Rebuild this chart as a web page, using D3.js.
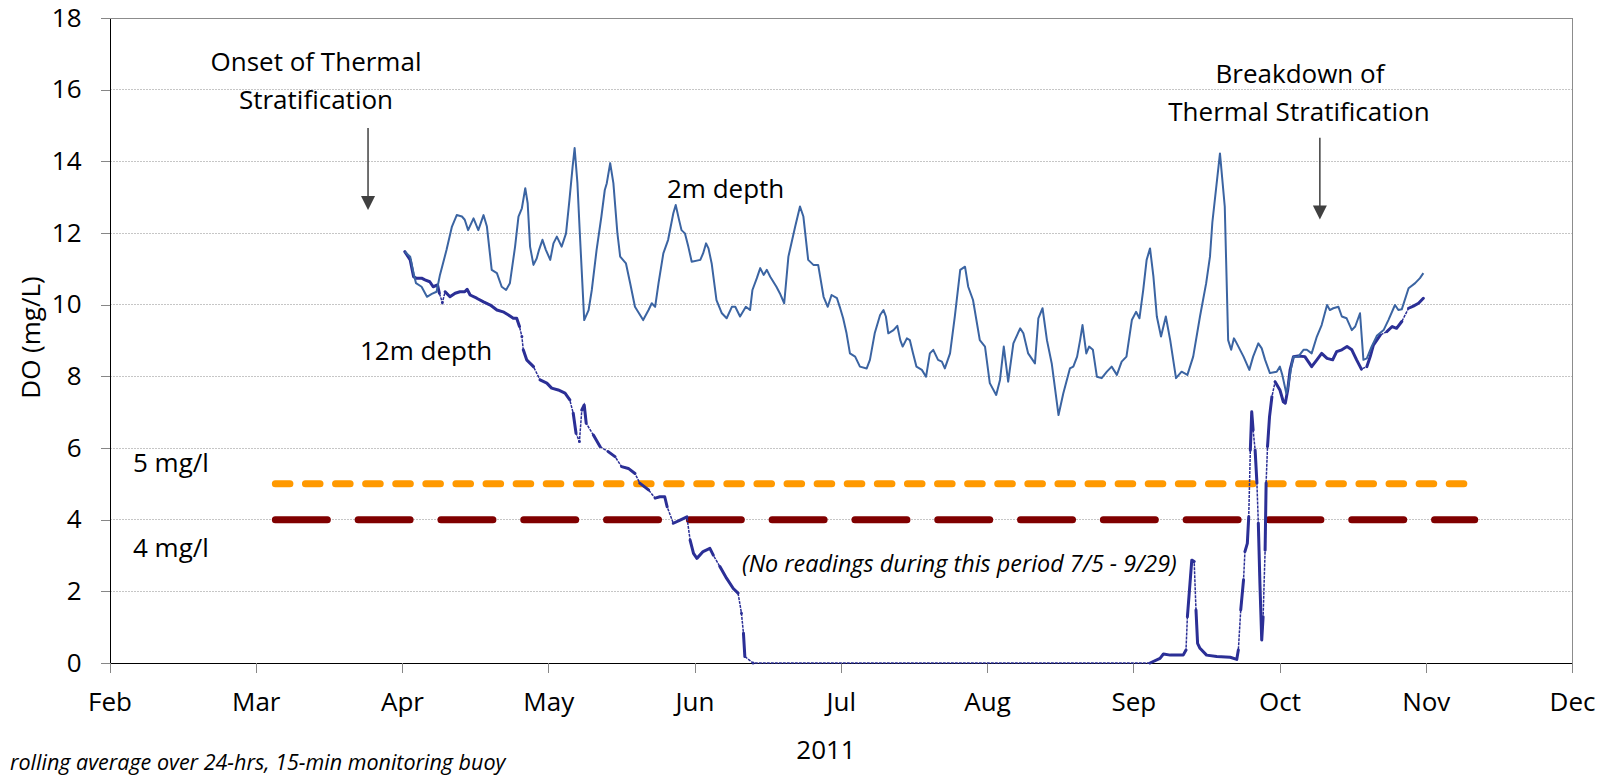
<!DOCTYPE html>
<html>
<head>
<meta charset="utf-8">
<script src="https://cdnjs.cloudflare.com/ajax/libs/d3/7.8.5/d3.min.js"></script>
<style>
body{margin:0;background:#fff;}
text{font-family:"Open Sans",sans-serif;fill:#000;}
</style>
</head>
<body>
<div id="chart"></div>
<script>
// day of year (fractional) and DO mg/L, 2m sensor
var day2m=[93.6,94.7,95.4,95.9,97.1,98.2,99.2,100.2,100.9,102.3,103.4,104.4,105.5,106.1,106.8,107.9,108.9,110.0,110.7,111.7,112.8,113.8,114.7,115.5,116.6,117.3,118.0,118.7,119.2,119.7,120.4,121.1,121.6,122.3,123.0,123.9,124.6,125.3,126.3,127.2,127.9,128.6,129.0,129.6,130.1,131.0,131.9,132.6,133.6,134.6,135.3,135.7,136.4,137.1,137.9,138.5,139.7,140.6,141.6,143.3,144.4,145.1,145.8,146.5,147.5,148.5,149.6,150.1,150.8,151.3,152.0,152.7,153.4,155.2,155.8,156.4,156.9,157.6,158.6,159.7,160.7,161.8,162.5,163.5,164.7,165.6,166.1,167.0,167.7,168.4,169.1,169.8,171.1,171.8,172.7,173.6,175.0,176.0,176.7,177.7,178.8,179.8,180.9,181.8,182.6,183.7,184.3,185.0,185.7,186.4,187.5,188.5,189.9,190.6,191.6,192.7,193.4,193.9,194.4,195.5,196.3,196.9,197.4,198.3,198.9,199.6,200.3,201.4,202.3,203.1,203.8,204.8,205.6,206.2,207.3,208.3,209.4,210.4,211.1,212.1,213.5,214.6,215.6,216.9,217.7,218.5,219.4,220.5,221.9,222.6,223.6,225.0,225.7,226.6,227.5,228.5,229.9,230.9,232.3,233.0,233.8,234.4,234.9,235.7,236.3,237.1,237.9,238.9,240.0,241.0,242.1,243.1,244.1,245.2,246.1,246.8,247.6,248.3,249.0,249.7,250.4,251.3,252.3,253.2,254.4,255.6,256.8,258.0,259.4,260.7,261.5,262.0,263.6,264.6,265.3,265.9,266.5,267.1,268.5,269.7,270.5,271.6,272.3,273.0,274.0,275.4,276.1,276.6,277.4,277.8,278.6,278.9,279.9,281.0,281.7,282.7,283.8,284.8,285.9,286.5,287.2,288.3,289.0,290.0,291.1,291.8,292.8,293.5,294.2,295.2,296.3,297.7,298.7,300.1,300.8,301.5,302.9,304.3,305.3,306.0];
var do2m=[11.48,11.34,10.88,10.6,10.5,10.22,10.3,10.36,10.83,11.53,12.18,12.5,12.46,12.37,12.08,12.41,12.08,12.5,12.18,10.97,10.88,10.5,10.41,10.6,11.62,12.46,12.69,13.25,12.83,11.62,11.11,11.29,11.53,11.81,11.53,11.25,11.71,11.9,11.62,11.99,12.92,13.85,14.37,13.39,12.0,9.57,9.85,10.41,11.53,12.46,13.2,13.39,13.95,13.39,12.0,11.34,11.15,10.6,9.94,9.57,9.85,10.04,9.94,10.6,11.43,11.81,12.55,12.78,12.36,12.08,11.99,11.62,11.2,11.25,11.43,11.71,11.57,11.15,10.13,9.76,9.62,9.94,9.94,9.67,9.94,9.85,10.41,10.74,11.02,10.83,10.97,10.78,10.5,10.32,10.04,11.34,12.18,12.74,12.46,11.25,11.11,11.11,10.22,9.94,10.27,10.18,9.94,9.62,9.2,8.64,8.55,8.27,8.22,8.46,9.2,9.71,9.85,9.67,9.2,9.29,9.41,9.01,8.83,9.06,9.01,8.64,8.27,8.18,7.99,8.64,8.74,8.46,8.41,8.22,8.64,9.67,10.97,11.06,10.5,10.13,9.01,8.83,7.81,7.48,7.9,8.83,7.85,8.92,9.34,9.2,8.64,8.36,9.62,9.9,9.01,8.36,6.92,7.53,8.22,8.27,8.55,9.01,9.43,8.64,8.83,8.74,7.99,7.95,8.13,8.27,8.04,8.41,8.55,9.57,9.8,9.62,10.41,11.25,11.57,10.78,9.67,9.11,9.67,9.01,7.95,8.13,8.04,8.55,9.67,10.6,11.34,12.3,14.22,12.74,9.01,8.74,9.06,8.92,8.55,8.18,8.55,8.92,8.78,8.46,8.09,8.13,8.27,8.04,7.53,7.71,8.36,8.55,8.55,8.74,8.74,8.64,9.11,9.43,9.99,9.85,9.9,9.94,9.67,9.62,9.29,9.39,9.76,8.46,8.5,8.83,9.13,9.29,9.57,9.99,9.85,9.87,10.46,10.6,10.74,10.88];

// 12m sensor, null = missing readings
var day12m=[93.6,94.7,95.4,95.9,97.1,97.8,98.8,99.5,100.4,100.8,null,101.4,null,102.0,103.0,104.1,105.1,106.1,106.6,107.2,108.6,110.0,111.4,112.8,114.1,115.2,116.2,116.9,117.5,null,118.0,null,118.3,119.0,120.4,null,121.8,123.2,124.2,125.6,127.0,128.0,null,128.7,129.3,null,130.0,null,130.5,131.0,131.4,null,132.9,134.3,null,136.0,137.4,null,138.8,140.2,141.6,null,142.6,144.4,null,145.8,146.8,147.8,148.3,null,149.6,151.0,152.4,null,153.1,153.8,154.5,155.8,157.2,157.9,null,159.3,160.7,162.1,163.1,null,163.8,null,164.2,164.5,null,166.2,null,249.0,251.1,251.8,253.2,255.9,256.5,null,256.8,257.7,258.2,null,258.6,258.9,259.4,260.8,262.9,265.7,267.1,267.4,null,267.9,268.5,null,268.8,269.3,269.6,null,269.9,270.2,270.5,null,270.9,271.3,null,271.6,271.9,272.3,272.6,null,273.0,273.2,null,273.5,273.9,274.4,null,275.1,276.1,276.8,277.2,277.7,278.2,278.9,279.9,281.3,282.7,283.8,284.8,285.9,287.1,287.9,289.0,290.1,291.1,292.1,293.1,null,294.2,294.9,295.6,297.0,null,298.4,299.5,300.4,301.5,null,302.9,303.9,305.0,306.0];
var do12m=[11.48,11.25,10.78,10.74,10.74,10.69,10.64,10.5,10.55,10.32,null,10.06,null,10.36,10.22,10.32,10.36,10.36,10.43,10.27,10.18,10.08,9.99,9.85,9.8,9.71,9.62,9.62,9.39,null,9.11,null,8.74,8.46,8.27,null,7.9,7.81,7.67,7.62,7.53,7.34,null,6.97,6.41,null,6.18,null,7.06,7.2,6.69,null,6.36,6.04,null,5.9,5.76,null,5.48,5.43,5.29,null,5.02,4.83,null,4.6,4.64,4.64,4.36,null,3.9,3.99,4.08,null,3.43,3.06,2.92,3.11,3.2,3.01,null,2.69,2.36,2.08,1.95,null,1.39,null,0.83,0.18,null,0,null,0,0.13,0.25,0.22,0.22,0.36,null,1.29,2.87,2.83,null,1.48,0.55,0.41,0.22,0.18,0.16,0.1,0.36,null,1.48,2.32,null,3.11,3.34,4.08,null,5.94,7.01,6.5,null,5.94,5.02,null,3.9,2.22,0.64,1.29,null,3.15,5.02,null,6.04,6.87,7.43,null,7.85,7.62,7.29,7.25,7.62,8.18,8.55,8.57,8.55,8.27,8.46,8.64,8.5,8.46,8.69,8.74,8.83,8.74,8.46,8.2,null,8.27,8.55,8.87,9.15,null,9.25,9.39,9.34,9.53,null,9.9,9.96,10.04,10.18];

// DO limits (mg/l) and the days they span
var limitValues=[5,4];
var limitLabels=["5 mg/l","4 mg/l"];
var limitColors=["#ff9900","#800000"];
var limitDash=["14.6,15.5","52,30.8"];
var limitDays=[66.6,316.7];

var monthLabels=["Feb","Mar","Apr","May","Jun","Jul","Aug","Sep","Oct","Nov","Dec"];
var yTicks=[0,2,4,6,8,10,12,14,16,18];

// annotation arrows: [day, from value, to value]
var arrows=[[85.9,14.93,12.64],[284.4,14.66,12.38]];

var W=1603, H=778;
var margin={top:18, right:31, bottom:115, left:109.5};

function toDate(doy){
    return d3.timeHour.offset(new Date(2011,0,1), Math.round((doy-1)*24));
}

var x0=toDate(32);
var x=d3.scaleTime()
    .domain([x0, d3.timeHour.offset(x0, 305*24)])
    .range([margin.left, W-margin.right]);
var y=d3.scaleLinear()
    .domain([0,18])
    .range([H-margin.bottom, margin.top]);

var xTicks=monthLabels.map(function(m,i){ return d3.timeHour.offset(x0, Math.round(i*30.5*24)); });

var svg=d3.select("#chart").append("svg")
    .attr("width",W).attr("height",H);

// gridlines
svg.append("g").selectAll("line")
    .data(yTicks.filter(function(v){ return v>0 && v<18; }))
    .enter().append("line")
    .attr("x1",x.range()[0]).attr("x2",x.range()[1])
    .attr("y1",function(d){ return y(d); }).attr("y2",function(d){ return y(d); })
    .attr("stroke","#c6c6c6").attr("stroke-dasharray","2,1")
    .attr("shape-rendering","crispEdges");

// plot border (top / right)
svg.append("path")
    .attr("d","M"+x.range()[0]+","+y(18)+"H"+x.range()[1]+"V"+y(0))
    .attr("fill","none").attr("stroke","#8c8c8c")
    .attr("shape-rendering","crispEdges");

// axes
var yAxis=d3.axisLeft(y).tickValues(yTicks).tickSize(9).tickSizeOuter(0).tickPadding(19);
var gy=svg.append("g").attr("transform","translate("+margin.left+",0)").call(yAxis);
var xAxis=d3.axisBottom(x).tickValues(xTicks).tickSize(10).tickSizeOuter(0).tickPadding(20)
    .tickFormat(function(d,i){ return monthLabels[i]; });
var gx=svg.append("g").attr("transform","translate(0,"+y(0)+")").call(xAxis);

[gx,gy].forEach(function(g){
    g.select(".domain").attr("stroke","#000").attr("shape-rendering","crispEdges");
    g.selectAll(".tick line").attr("stroke","#868686").attr("shape-rendering","crispEdges");
    g.selectAll(".tick text").attr("font-family","Open Sans").attr("font-size",26).attr("fill","#000");
});

// limit lines
limitValues.forEach(function(v,i){
    svg.append("line")
        .attr("x1",x(toDate(limitDays[0]))).attr("x2",x(toDate(limitDays[1])))
        .attr("y1",y(v)).attr("y2",y(v))
        .attr("stroke",limitColors[i]).attr("stroke-width",7)
        .attr("stroke-linecap","round").attr("stroke-dasharray",limitDash[i]);
});

var line=d3.line()
    .defined(function(d){ return d[1]!=null; })
    .x(function(d){ return x(toDate(d[0])); })
    .y(function(d){ return y(d[1]); });

var s12=d3.zip(day12m,do12m);

// 12m: thin trace across the missing readings, thick where readings are continuous
svg.append("path")
    .datum(s12.filter(function(d){ return d[1]!=null; }))
    .attr("d",line)
    .attr("fill","none").attr("stroke","#2b2f96").attr("stroke-width",1.5)
    .attr("stroke-dasharray","3,1");
svg.append("path")
    .datum(s12)
    .attr("d",line)
    .attr("fill","none").attr("stroke","#2b2f96").attr("stroke-width",3)
    .attr("stroke-linejoin","round").attr("stroke-linecap","round");

// 2m
svg.append("path")
    .datum(d3.zip(day2m,do2m))
    .attr("d",line)
    .attr("fill","none").attr("stroke","#3b64a2").attr("stroke-width",2)
    .attr("stroke-linejoin","round");

// arrows
arrows.forEach(function(a){
    var ax=x(toDate(a[0])), ya=y(a[1]), yb=y(a[2]);
    svg.append("line").attr("x1",ax).attr("x2",ax).attr("y1",ya).attr("y2",yb-12)
        .attr("stroke","#404040").attr("stroke-width",1.5);
    svg.append("path")
        .attr("d","M"+(ax-7)+","+(yb-14)+"L"+(ax+7)+","+(yb-14)+"L"+ax+","+yb+"Z")
        .attr("fill","#404040");
});

// labels
function label(t,px,py,opts){
    opts=opts||{};
    return svg.append("text").attr("x",px).attr("y",py)
        .attr("font-size",opts.size||26)
        .attr("font-style",opts.italic?"italic":"normal")
        .attr("text-anchor",opts.anchor||"start")
        .text(t);
}
label("Onset of Thermal",316,71,{anchor:"middle"});
label("Stratification",316,108.5,{anchor:"middle"});
label("Breakdown of",1300,83,{anchor:"middle"});
label("Thermal Stratification",1299,121,{anchor:"middle"});
label("2m depth",667,198);
label("12m depth",360,360);
label(limitLabels[0],133,472);
label(limitLabels[1],133,557);
label("(No readings during this period 7/5 - 9/29)",742,572,{italic:true,size:23.4});
label("2011",826,759,{anchor:"middle"});
label("rolling average over 24-hrs, 15-min monitoring buoy",10,770,{italic:true,size:21.5});

svg.append("text")
    .attr("transform","translate(40,337.5) rotate(-90)")
    .attr("text-anchor","middle").attr("font-size",26)
    .text("DO (mg/L)");
</script>
</body>
</html>
